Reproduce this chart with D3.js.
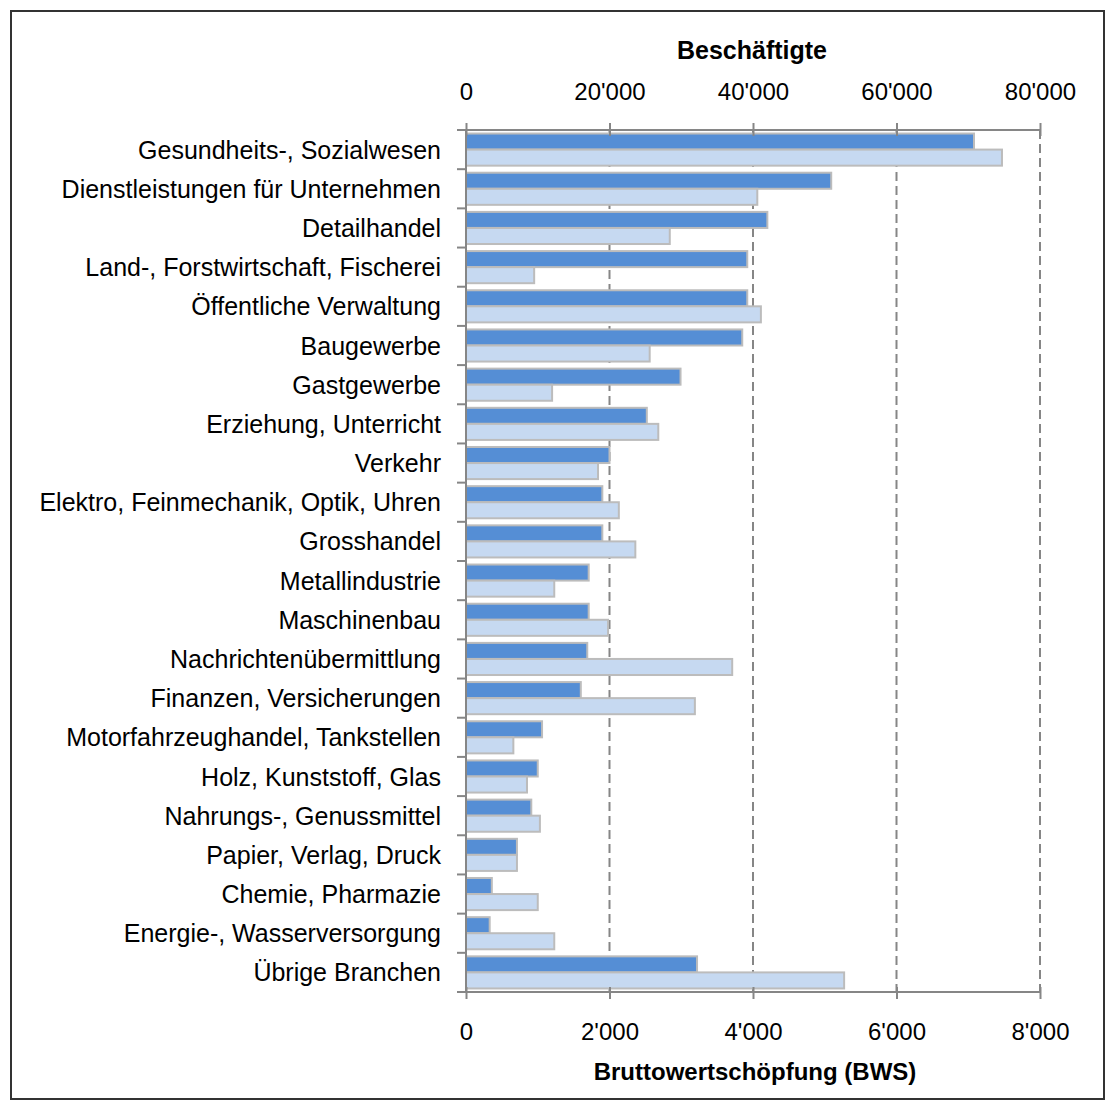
<!DOCTYPE html>
<html>
<head>
<meta charset="utf-8">
<script src="https://cdn.jsdelivr.net/npm/d3@7"></script>
<style>
  body { margin: 0; background: #fff; }
  text { font-family: "Liberation Sans", Arial, sans-serif; fill: #000; }
</style>
</head>
<body>
<script>
// Branchen, von oben nach unten
const branchen = [
  "Gesundheits-, Sozialwesen",
  "Dienstleistungen für Unternehmen",
  "Detailhandel",
  "Land-, Forstwirtschaft, Fischerei",
  "Öffentliche Verwaltung",
  "Baugewerbe",
  "Gastgewerbe",
  "Erziehung, Unterricht",
  "Verkehr",
  "Elektro, Feinmechanik, Optik, Uhren",
  "Grosshandel",
  "Metallindustrie",
  "Maschinenbau",
  "Nachrichtenübermittlung",
  "Finanzen, Versicherungen",
  "Motorfahrzeughandel, Tankstellen",
  "Holz, Kunststoff, Glas",
  "Nahrungs-, Genussmittel",
  "Papier, Verlag, Druck",
  "Chemie, Pharmazie",
  "Energie-, Wasserversorgung",
  "Übrige Branchen"
];

// Beschäftigte (obere Achse)
const beschaeftigte = [70800, 50900, 42000, 39200, 39200, 38500, 29900, 25200, 20000, 19000, 19000, 17100,
                       17100, 16900, 16000, 10600, 10000, 9100, 7100, 3600, 3300, 32200];

// Bruttowertschöpfung (untere Achse)
const bws = [7470, 4060, 2840, 950, 4110, 2560, 1200, 2680, 1840, 2130, 2360, 1230,
             1980, 3710, 3190, 660, 850, 1030, 710, 1000, 1230, 5270];

const ticksBeschaeftigte = [0, 20000, 40000, 60000, 80000];
const ticksBws = [0, 2000, 4000, 6000, 8000];

const titelOben = "Beschäftigte";
const titelUnten = "Bruttowertschöpfung (BWS)";

const width = 1112, height = 1102;
const links = 466, rechts = 1040, oben = 130, unten = 992;
const schrift = "25px";
const schriftTicks = "24px";
const grau = "#868686";

const fmt = d3.formatLocale({decimal: ".", thousands: "'", grouping: [3], currency: ["", ""]}).format(",");

const svg = d3.select("body").append("svg")
  .attr("width", width)
  .attr("height", height);

// Rahmen
svg.append("rect")
  .attr("x", 11).attr("y", 11)
  .attr("width", 1093).attr("height", 1088)
  .attr("fill", "#fff")
  .attr("stroke", "#333")
  .attr("stroke-width", 2);

// Skalen
const xTop = d3.scaleLinear().domain([0, 80000]).range([links, rechts]);
const xBot = d3.scaleLinear().domain([0, 8000]).range([links, rechts]);
const y = d3.scaleBand().domain(branchen).range([oben, unten]).padding(0);
const yInner = d3.scaleBand().domain(["b", "w"]).range([0, y.bandwidth()])
  .paddingInner(0).paddingOuter(0.22);

// Gitternetz
svg.append("g")
  .selectAll("line")
  .data(ticksBeschaeftigte.slice(1))
  .enter()
  .append("line")
  .attr("x1", d => xTop(d)).attr("x2", d => xTop(d))
  .attr("y1", oben).attr("y2", unten)
  .attr("stroke", grau)
  .attr("stroke-width", 2)
  .attr("stroke-dasharray", "9,5");

// Balken
const gruppen = svg.append("g")
  .selectAll("g")
  .data(branchen)
  .enter()
  .append("g")
  .attr("transform", d => "translate(0," + y(d) + ")");

gruppen.append("rect")
  .attr("x", xTop(0))
  .attr("y", yInner("b"))
  .attr("width", (d, i) => xTop(beschaeftigte[i]) - xTop(0))
  .attr("height", yInner.bandwidth())
  .attr("fill", "#558ED5")
  .attr("stroke", "#BCBCBC")
  .attr("stroke-width", 2);

gruppen.append("rect")
  .attr("x", xBot(0))
  .attr("y", yInner("w"))
  .attr("width", (d, i) => xBot(bws[i]) - xBot(0))
  .attr("height", yInner.bandwidth())
  .attr("fill", "#C6D9F1")
  .attr("stroke", "#BCBCBC")
  .attr("stroke-width", 2);

// Obere Achse
const axTop = svg.append("g")
  .attr("transform", "translate(0," + oben + ")")
  .call(d3.axisTop(xTop).tickValues(ticksBeschaeftigte).tickSizeOuter(0).tickFormat(fmt));
axTop.select(".domain").attr("stroke", grau).attr("stroke-width", 2).attr("d", "M" + (links - 9) + ",0H" + rechts);
axTop.selectAll(".tick line").attr("stroke", grau).attr("stroke-width", 2).attr("y1", 6).attr("y2", -7);
axTop.selectAll(".tick text")
  .attr("y", -30).attr("dy", null)
  .style("font-size", schriftTicks);

// Untere Achse
const axBot = svg.append("g")
  .attr("transform", "translate(0," + unten + ")")
  .call(d3.axisBottom(xBot).tickValues(ticksBws).tickSizeOuter(0).tickFormat(fmt));
axBot.select(".domain").attr("stroke", grau).attr("stroke-width", 2).attr("d", "M" + (links - 9) + ",0H" + rechts);
axBot.selectAll(".tick line").attr("stroke", grau).attr("stroke-width", 2).attr("y1", -5).attr("y2", 7);
axBot.selectAll(".tick text")
  .attr("y", 48).attr("dy", null)
  .style("font-size", schriftTicks);

// Kategorienachse links
const axLeft = svg.append("g");
axLeft.append("line")
  .attr("x1", links).attr("x2", links)
  .attr("y1", oben).attr("y2", unten)
  .attr("stroke", grau).attr("stroke-width", 2);
axLeft.selectAll(".kat-tick")
  .data(branchen.concat(["__ende"]))
  .enter()
  .append("line")
  .attr("class", "kat-tick")
  .attr("x1", links - 9).attr("x2", links)
  .attr("y1", d => d === "__ende" ? unten : y(d))
  .attr("y2", d => d === "__ende" ? unten : y(d))
  .attr("stroke", grau).attr("stroke-width", 2);

axLeft.selectAll(".kat-label")
  .data(branchen)
  .enter()
  .append("text")
  .attr("class", "kat-label")
  .attr("x", 441)
  .attr("y", d => y(d) + y.bandwidth() / 2)
  .attr("dy", "0.36em")
  .attr("text-anchor", "end")
  .style("font-size", schrift)
  .text(d => d);

// Achsentitel
svg.append("text")
  .attr("x", 752).attr("y", 59)
  .attr("text-anchor", "middle")
  .style("font-size", schrift)
  .style("font-weight", "bold")
  .text(titelOben);

svg.append("text")
  .attr("x", 755).attr("y", 1080)
  .attr("text-anchor", "middle")
  .style("font-size", schriftTicks)
  .style("font-weight", "bold")
  .text(titelUnten);
</script>
</body>
</html>
